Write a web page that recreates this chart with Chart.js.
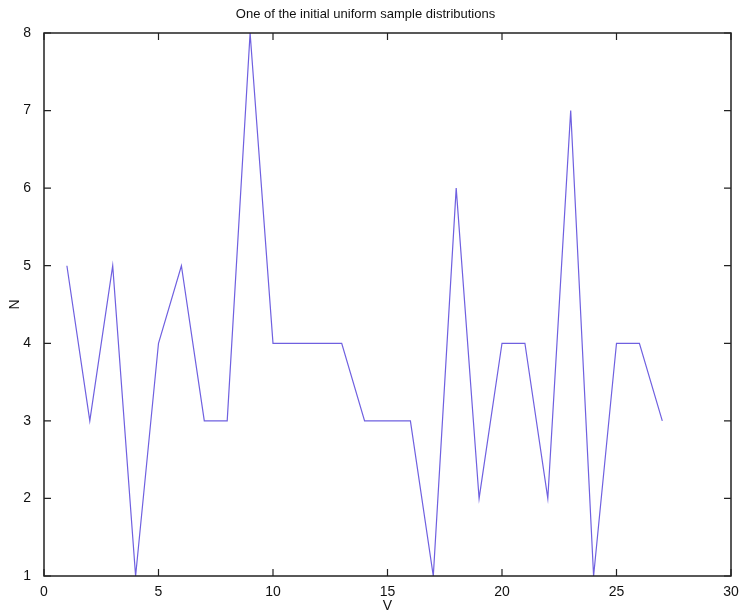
<!DOCTYPE html>
<html>
<head>
<meta charset="utf-8">
<script src="https://cdn.jsdelivr.net/npm/chart.js@4/dist/chart.umd.min.js"></script>
<style>
  html, body { margin: 0; padding: 0; background: #fff; }
  #wrap { width: 742px; height: 611px; }
</style>
</head>
<body>
<div id="wrap"><canvas id="c"></canvas></div>
<script>
// values
const xs = [1, 2, 3, 4, 5, 6, 7, 8, 9, 10, 11, 12, 13, 14, 15, 16, 17, 18, 19, 20, 21, 22, 23, 24, 25, 26, 27]
const counts = [5, 3, 5, 1, 4, 5, 3, 3, 8, 4, 4, 4, 4, 3, 3, 3, 1, 6, 2, 4, 4, 2, 7, 1, 4, 4, 3]
const xTicks = [0, 5, 10, 15, 20, 25, 30]
const yTicks = [1, 2, 3, 4, 5, 6, 7, 8]

const font = { family: "Liberation Sans, Arial, sans-serif", size: 13 }
const tickFont = { family: "Liberation Sans, Arial, sans-serif", size: 14 }

// matlab style box with ticks pointing inward on all four sides
const boxTicks = {
  id: "boxTicks",
  afterDraw(chart) {
    const { ctx, chartArea: a, scales } = chart
    ctx.save()
    ctx.strokeStyle = "#222"
    ctx.lineWidth = 1.5
    ctx.strokeRect(a.left, a.top, a.right - a.left, a.bottom - a.top)
    ctx.lineWidth = 1.2
    ctx.beginPath()
    xTicks.forEach(v => {
      const x = scales.x.getPixelForValue(v)
      ctx.moveTo(x, a.bottom); ctx.lineTo(x, a.bottom - 7)
      ctx.moveTo(x, a.top); ctx.lineTo(x, a.top + 7)
    })
    yTicks.forEach(v => {
      const y = scales.y.getPixelForValue(v)
      ctx.moveTo(a.left, y); ctx.lineTo(a.left + 7, y)
      ctx.moveTo(a.right, y); ctx.lineTo(a.right - 7, y)
    })
    ctx.stroke()
    ctx.restore()
  }
}

new Chart(document.getElementById("c"), {
  type: "line",
  data: {
    datasets: [{
      data: xs.map((x, i) => ({ x: x, y: counts[i] })),
      borderColor: "#6f60e0",
      borderWidth: 1.2,
      pointRadius: 0,
      tension: 0,
      fill: false
    }]
  },
  options: {
    responsive: true,
    maintainAspectRatio: false,
    animation: false,
    layout: { padding: { left: 0, right: 11, top: 0, bottom: 0 } },
    plugins: {
      legend: { display: false },
      tooltip: { enabled: false },
      title: {
        display: true,
        text: "One of the initial uniform sample distributions",
        color: "#111",
        font: { ...font, weight: "normal" },
        padding: { top: 7, bottom: 10.4 }
      }
    },
    scales: {
      x: {
        type: "linear",
        min: 0, max: 30,
        afterBuildTicks: s => { s.ticks = xTicks.map(v => ({ value: v })) },
        afterFit: s => { s.height = 35 },
        grid: { display: false },
        border: { display: false },
        ticks: { color: "#111", font: tickFont, padding: 0, maxRotation: 0 },
        title: { display: true, text: "V", color: "#111", font: tickFont, padding: { top: 0, bottom: -4 } }
      },
      y: {
        min: 1, max: 8,
        afterBuildTicks: s => { s.ticks = yTicks.map(v => ({ value: v })) },
        afterFit: s => { s.width = 44 },
        grid: { display: false },
        border: { display: false },
        ticks: { color: "#111", font: tickFont, padding: 5 },
        title: { display: true, text: "N", color: "#111", font: tickFont, padding: { top: 7, bottom: 0 } }
      }
    }
  },
  plugins: [boxTicks]
})
</script>
</body>
</html>
